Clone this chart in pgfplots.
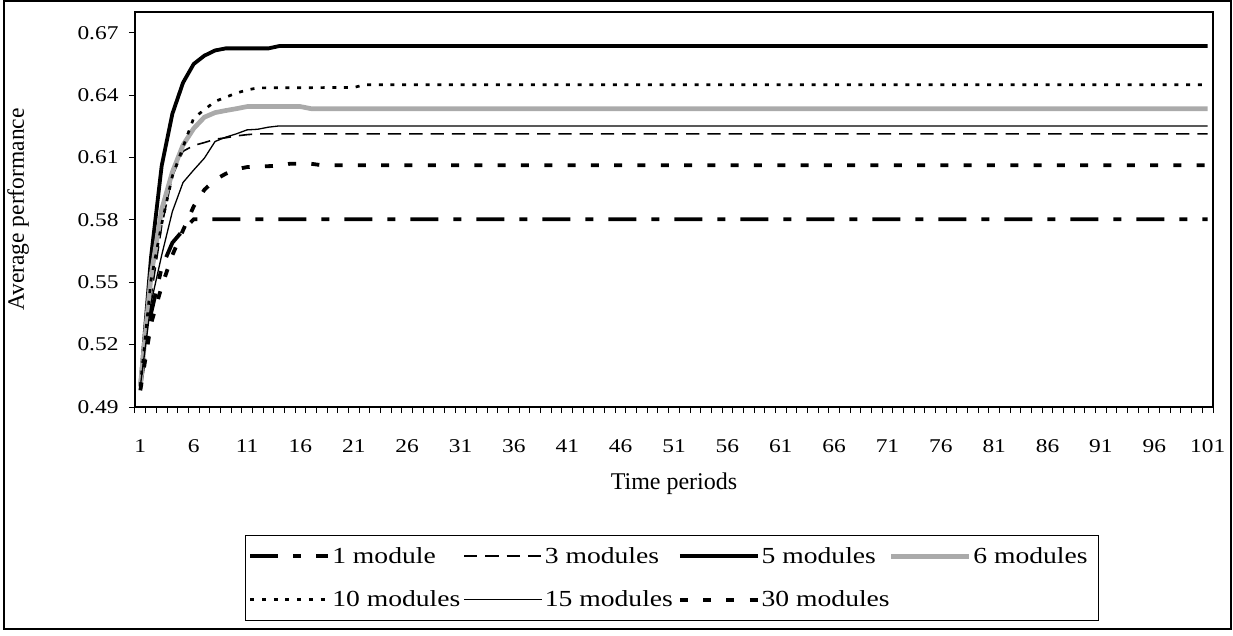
\documentclass[border=0pt]{standalone}
\usepackage{fontspec}
\setmainfont{Liberation Serif}
\newfontfamily\tickfont{Liberation Serif}[FakeStretch=1.2]
\newfontfamily\legfont{Liberation Serif}[FakeStretch=1.2]
\usepackage{pgfplots}
\pgfplotsset{compat=1.18}
\definecolor{exgray}{RGB}{170,170,170}

\begin{document}
\begin{tikzpicture}
\useasboundingbox (-135pt,-228pt) rectangle (1098pt,407pt);
\draw[line width=1.2pt] (-131pt,-222pt) rectangle (1096pt,406pt);
\begin{axis}[
    at={(0pt,0pt)}, anchor=south west,
    scale only axis,
    width=1078pt, height=395pt,
    xmin=0.5, xmax=101.5,
    ymin=0.49, ymax=0.68,
    xtick={1,6,...,101},
    minor xtick={0.5,1.5,...,101.5},
    ytick={0.49,0.52,0.55,0.58,0.61,0.64,0.67},
    yticklabel style={/pgf/number format/.cd, fixed, fixed zerofill, precision=2},
    /pgf/number format/assume math mode=true,
    tick pos=left,
    tick align=outside,
    x tick style={draw=none},
    minor x tick style={draw=black, line width=1pt},
    minor tick length=6pt,
    major tick length=6pt,
    y tick style={black, line width=1pt},
    axis line style={line width=1.1pt},
    tick label style={font=\tickfont\fontsize{19.5}{22}\selectfont},
    xticklabel shift=23pt,
    yticklabel shift=7pt,
    xlabel={Time periods},
    ylabel={Average performance},
    every axis x label/.style={at={(axis description cs:0.5,-0.195)}, anchor=center,
        font=\fontsize{24}{28}\selectfont},
    every axis y label/.style={at={(axis description cs:-0.1085,0.5)}, anchor=center, rotate=90,
        font=\fontsize{23.5}{28}\selectfont},
    legend columns=4,
    legend image code/.code={\draw[#1] (0pt,0pt) -- (78pt,0pt);},
    legend style={
        at={(axis description cs:0.10204,-0.32405)}, anchor=north west,
        draw=black, line width=1pt,
        inner xsep=3pt, inner ysep=10pt,
        /tikz/row sep=22pt, /tikz/column sep=0pt,
        nodes={inner sep=2pt, font=\legfont\fontsize{23}{26}\selectfont},
        cells={anchor=west},
    },
]
\addplot[black, line width=3.8pt, dash pattern=on 28pt off 15pt on 8pt off 15pt] coordinates {
    (1,0.500) (2,0.535) (3,0.557) (4,0.569) (5,0.575) (6,0.5803) (101,0.5803)
};
\addlegendentry{\makebox[129pt][l]{1 module}}
\addplot[black, line width=1.6pt, dash pattern=on 13.3pt off 8pt] coordinates {
    (1,0.500) (2,0.543) (3,0.577) (4,0.601) (5,0.613) (6,0.6158) (7,0.6172)
    (8,0.6188) (9,0.6195) (10,0.6204) (11,0.621) (12,0.6214) (101,0.6214)
};
\addlegendentry{\makebox[131pt][l]{3 modules}}
\addplot[black, line width=3.8pt] coordinates {
    (1,0.500) (2,0.562) (3,0.606) (4,0.631) (5,0.646) (6,0.655) (7,0.659)
    (8,0.6615) (9,0.6625) (13,0.6625) (14,0.6636) (101,0.6636)
};
\addlegendentry{\makebox[125pt][l]{5 modules}}
\addplot[exgray, line width=4.7pt] coordinates {
    (1,0.500) (2,0.553) (3,0.585) (4,0.603) (5,0.616) (6,0.624) (7,0.6294)
    (8,0.6316) (9,0.6326) (10,0.6335) (11,0.6345) (16,0.6345) (17,0.6335) (101,0.6335)
};
\addlegendentry{\makebox[120pt][l]{6 modules}}
\addplot[black, line width=2.7pt, dash pattern=on 4pt off 7.7pt] coordinates {
    (1,0.500) (2,0.551) (3,0.578) (4,0.601) (5,0.615) (6,0.629) (7,0.633)
    (8,0.637) (9,0.639) (10,0.641) (11,0.6425) (12,0.6435) (21,0.6437) (22,0.645) (101,0.645)
};
\addlegendentry{\makebox[129pt][l]{10 modules}}
\addplot[black, line width=1.3pt] coordinates {
    (1,0.500) (2,0.540) (3,0.563) (4,0.584) (5,0.598) (6,0.604) (7,0.6097)
    (8,0.6177) (9,0.6198) (10,0.6214) (11,0.6233) (12,0.6236) (13,0.6246) (14,0.6252) (101,0.6252)
};
\addlegendentry{\makebox[131pt][l]{15 modules}}
\addplot[black, line width=3.8pt, dash pattern=on 8pt off 15.3pt] coordinates {
    (1,0.498) (2,0.530) (3,0.548) (4,0.563) (5,0.575) (6,0.5865) (7,0.5945)
    (8,0.5993) (9,0.6022) (10,0.6044) (11,0.6054) (12,0.6057) (14,0.606)
    (15,0.607) (17,0.607) (18,0.6063) (101,0.6063)
};
\addlegendentry{\makebox[125pt][l]{30 modules}}
\end{axis}
\end{tikzpicture}
\end{document}
